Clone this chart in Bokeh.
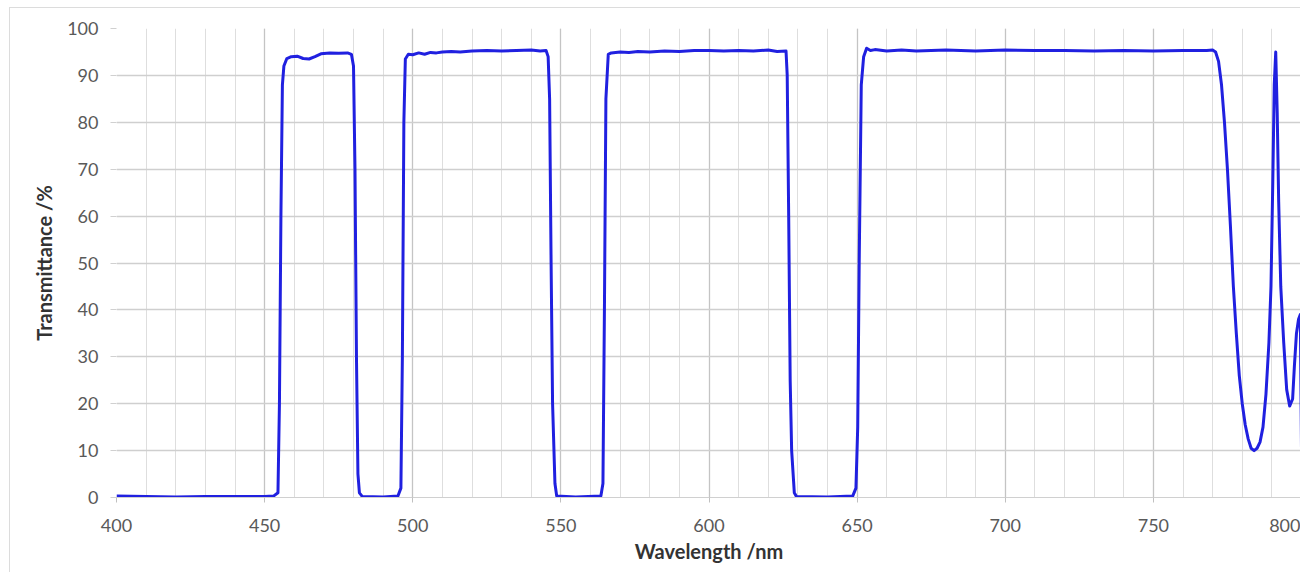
from bokeh.plotting import figure
from bokeh.models import SingleIntervalTicker, FixedTicker, Range1d
from bokeh.embed import file_html
from bokeh.resources import INLINE

# Transmittance spectrum
wavelength = [
    400, 410, 420, 430, 440, 450, 453, 454.5, 455, 455.5, 456, 456.5, 457.5, 459, 461, 463, 465,
    467, 469, 472, 475, 478, 479.3, 480, 480.5, 481, 481.5, 482, 483, 490, 495, 496, 496.5, 497,
    497.5, 498.5, 500, 502, 504, 506, 508, 510, 513, 516, 520, 525, 530, 535, 540, 543, 545,
    545.7, 546.2, 546.7, 547.2, 548, 548.6, 555, 563.5, 564.2, 564.7, 565.2, 566, 567, 570, 573,
    576, 580, 585, 590, 595, 600, 605, 610, 615, 620, 623, 626, 626.4, 626.9, 627.4, 627.9, 628.8,
    629.5, 640, 648.5, 649.6, 650.2, 650.7, 651.4, 652.2, 653.2, 654.5, 656, 660, 665, 670, 680, 690,
    700, 710, 720, 730, 740, 750, 760, 768, 770, 771, 772, 773, 774, 775, 776, 777, 778, 779,
    780, 781, 782, 783, 784, 785, 786, 787, 788, 789, 789.7, 790.3, 790.8, 791.3, 791.8, 792.3,
    793, 794, 795, 796, 797, 797.6, 798.3, 799, 799.6, 800,
]
transmittance = [
    0.3, 0.2, 0.1, 0.2, 0.2, 0.2, 0.3, 1, 20, 60, 88, 92, 93.6, 94.0, 94.1, 93.6, 93.5,
    94.0, 94.6, 94.8, 94.7, 94.8, 94.5, 92, 70, 30, 5, 1, 0.2, 0.1, 0.3, 2, 30, 80,
    93.5, 94.5, 94.4, 94.8, 94.5, 94.9, 94.8, 95.0, 95.1, 95.0, 95.2, 95.3, 95.2, 95.3, 95.4, 95.2, 95.3,
    94, 85, 50, 20, 3, 0.3, 0.1, 0.3, 3, 40, 85, 94.5, 94.8, 95.0, 94.9,
    95.1, 95.0, 95.2, 95.1, 95.3, 95.3, 95.2, 95.3, 95.2, 95.4, 95.1, 95.2, 90, 60, 25, 10, 1,
    0.2, 0.1, 0.3, 2, 15, 50, 88, 94, 95.8, 95.3, 95.5, 95.2, 95.4, 95.2, 95.4, 95.2,
    95.4, 95.3, 95.3, 95.2, 95.3, 95.2, 95.3, 95.3, 95.4, 95, 93, 88, 80, 70, 58, 45, 35, 26,
    20, 15.5, 12.5, 10.5, 10, 10.5, 11.8, 15, 22, 33, 45, 67, 88, 95, 82, 63,
    45, 33, 23, 19.5, 21, 28, 35, 38, 39, 10,
]

x_ticks = [400, 450, 500, 550, 600, 650, 700, 750, 800]
y_ticks = [0, 10, 20, 30, 40, 50, 60, 70, 80, 90, 100]

FONT = "Lato"

p = figure(
    width=1291, height=565,
    output_backend="svg", toolbar_location=None,
    x_range=Range1d(400, 800), y_range=Range1d(0, 100),
    min_border_left=106, min_border_right=0, min_border_top=20, min_border_bottom=76,
)
p.outline_line_color = None
p.background_fill_color = "white"
p.border_fill_color = "white"
p.styles = {"margin-left": "9px", "margin-top": "7px",
            "border-left": "1px solid #dcdcdc", "border-top": "1px solid #dcdcdc"}

# x axis
p.xaxis.ticker = SingleIntervalTicker(interval=50, num_minor_ticks=5)
p.xaxis.axis_line_color = "#d0d0d0"
p.xaxis.major_tick_line_color = "#c0c0c0"
p.xaxis.major_tick_out = 5
p.xaxis.major_tick_in = 0
p.xaxis.minor_tick_line_color = None
p.xaxis.major_label_text_font = FONT
p.xaxis.major_label_text_font_size = "18px"
p.xaxis.major_label_text_color = "#595959"
p.xaxis.major_label_standoff = 16
p.xaxis.axis_label = "Wavelength /nm"
p.xaxis.axis_label_text_font = FONT
p.xaxis.axis_label_text_font_style = "bold"
p.xaxis.axis_label_text_font_size = "20px"
p.xaxis.axis_label_text_color = "#333333"
p.xaxis.axis_label_standoff = 4

# y axis
p.yaxis.ticker = FixedTicker(ticks=y_ticks)
p.yaxis.axis_line_color = None
p.yaxis.major_tick_line_color = "#d0d0d0"
p.yaxis.major_tick_out = 6
p.yaxis.major_tick_in = 0
p.yaxis.minor_tick_line_color = None
p.yaxis.major_label_text_font = FONT
p.yaxis.major_label_text_font_size = "18px"
p.yaxis.major_label_text_color = "#595959"
p.yaxis.major_label_standoff = 12
p.yaxis.axis_label = "Transmittance /%"
p.yaxis.axis_label_text_font = FONT
p.yaxis.axis_label_text_font_style = "bold"
p.yaxis.axis_label_text_font_size = "20px"
p.yaxis.axis_label_text_color = "#333333"
p.yaxis.axis_label_standoff = 8

# grids
p.xgrid.grid_line_color = "#c4c4c4"
p.xgrid.grid_line_width = 1.3
p.xgrid.minor_grid_line_color = "#dedede"
p.ygrid.grid_line_color = "#cfcfcf"
p.ygrid.grid_line_width = 1.3

p.line(wavelength, transmittance, line_color="#2020e0", line_width=3, line_join="round")

open("out.html", "w").write(file_html(p, INLINE))
